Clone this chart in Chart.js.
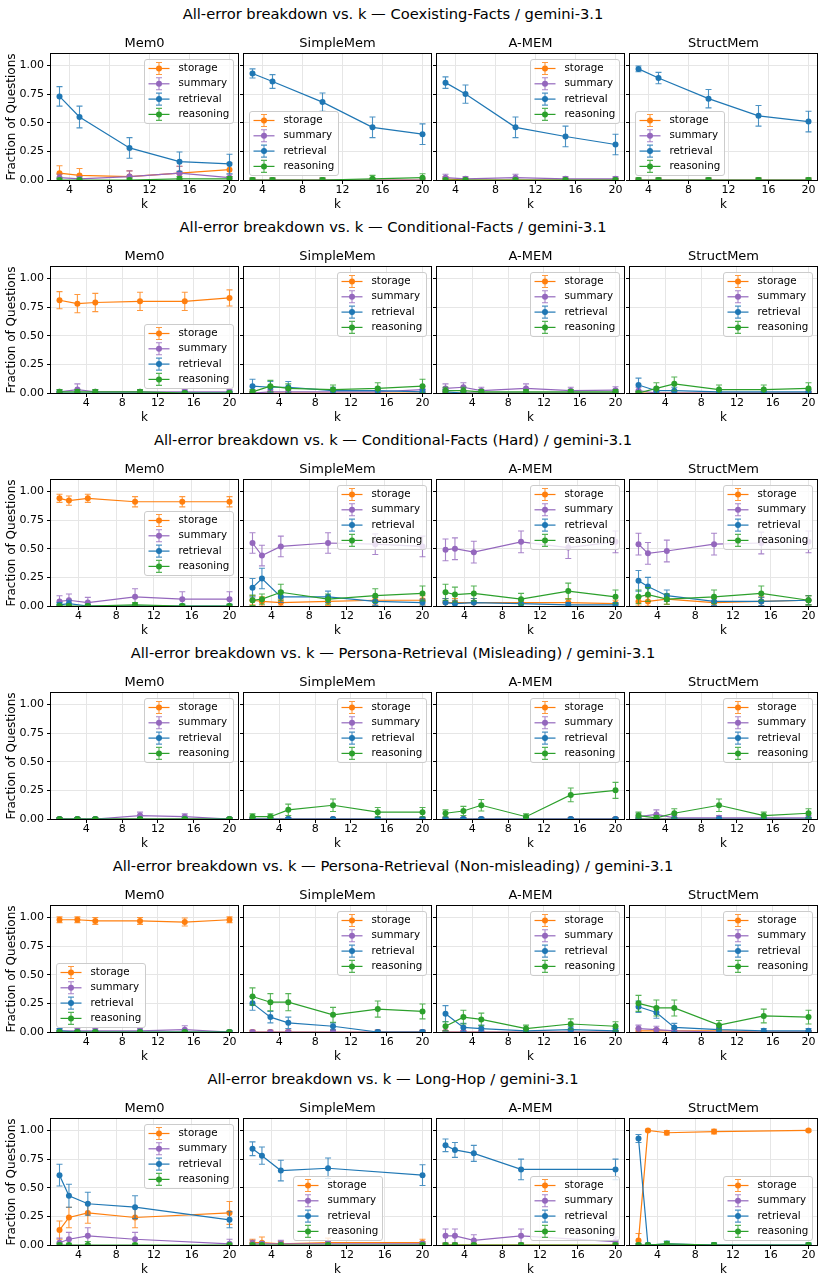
<!DOCTYPE html>
<html>
<head>
<meta charset="utf-8">
<script src="https://cdn.jsdelivr.net/npm/chart.js@4.4.0/dist/chart.umd.min.js"></script>
<style>
  body { margin: 0; background: #fff; }
  #fig { position: relative; width: 824px; height: 1281px; font-family: 'DejaVu Sans', sans-serif; color: #000; overflow: hidden; }
  .sup { position: absolute; left: 0; width: 786px; text-align: center; font-size: 14.7px; line-height: 18px; white-space: nowrap; }
  .sub { position: absolute; width: 187px; text-align: center; font-size: 13px; line-height: 16px; }
  canvas { position: absolute; }
</style>
</head>
<body>
<div id="fig"></div>
<script>
// x values (k) per task
const K_COEX = [3, 5, 10, 15, 20];
const K_COND = [1, 3, 5, 10, 15, 20];
const K_HARD = [2, 3, 5, 10, 15, 20];
const K_MIS = [1, 3, 5, 10, 15, 20];
const K_NON = [1, 3, 5, 10, 15, 20];
const K_HOP = [2, 3, 5, 10, 20];

const X_TICKS = [4, 8, 12, 16, 20];
const Y_TICKS = [0, 0.25, 0.5, 0.75, 1.0];

const METHODS = ['Mem0', 'SimpleMem', 'A-MEM', 'StructMem'];
const SERIES = ['storage', 'summary', 'retrieval', 'reasoning'];
const COLORS = { storage: '#ff7f0e', summary: '#9467bd', retrieval: '#1f77b4', reasoning: '#2ca02c' };

// Coexisting-Facts
const COEX_MEM0 = { storage: [0.06, 0.04, 0.03, 0.06, 0.09], summary: [0.02, 0.01, 0.03, 0.06, 0.02], retrieval: [0.73, 0.55, 0.28, 0.16, 0.14], reasoning: [0, 0, 0, 0.01, 0.01] };
const COEX_MEM0_ERR = { storage: [0.065, 0.06, 0.05, 0.06, 0.06], summary: [0.03, 0.02, 0.05, 0.06, 0.03], retrieval: [0.085, 0.095, 0.09, 0.085, 0.085], reasoning: [0.015, 0.015, 0.015, 0.02, 0.02] };
const COEX_SIMPLE = { storage: [0, 0, 0, 0, 0], summary: [0, 0, 0, 0, 0], retrieval: [0.93, 0.86, 0.68, 0.46, 0.40], reasoning: [0, 0, 0, 0.01, 0.02] };
const COEX_SIMPLE_ERR = { storage: [0.015, 0.015, 0.015, 0.015, 0.015], summary: [0.015, 0.015, 0.015, 0.015, 0.015], retrieval: [0.04, 0.06, 0.08, 0.09, 0.09], reasoning: [0.02, 0.02, 0.02, 0.03, 0.035] };
const COEX_AMEM = { storage: [0.01, 0, 0, 0, 0], summary: [0.02, 0.01, 0.02, 0.01, 0.01], retrieval: [0.85, 0.75, 0.46, 0.38, 0.31], reasoning: [0, 0, 0, 0, 0] };
const COEX_AMEM_ERR = { storage: [0.02, 0.015, 0.015, 0.015, 0.015], summary: [0.03, 0.02, 0.03, 0.02, 0.02], retrieval: [0.05, 0.08, 0.09, 0.09, 0.09], reasoning: [0.015, 0.015, 0.015, 0.015, 0.015] };
const COEX_STRUCT = { storage: [0, 0, 0, 0, 0], summary: [0, 0, 0, 0, 0], retrieval: [0.97, 0.89, 0.71, 0.56, 0.51], reasoning: [0, 0, 0, 0, 0] };
const COEX_STRUCT_ERR = { storage: [0.015, 0.015, 0.015, 0.015, 0.015], summary: [0.015, 0.015, 0.015, 0.015, 0.015], retrieval: [0.025, 0.05, 0.08, 0.09, 0.09], reasoning: [0.02, 0.02, 0.02, 0.02, 0.02] };

// Conditional-Facts
const COND_MEM0 = { storage: [0.81, 0.78, 0.79, 0.80, 0.80, 0.83], summary: [0.01, 0.03, 0.01, 0.01, 0.01, 0.01], retrieval: [0, 0, 0, 0, 0, 0], reasoning: [0.01, 0.01, 0.01, 0.01, 0, 0] };
const COND_MEM0_ERR = { storage: [0.075, 0.08, 0.08, 0.08, 0.08, 0.07], summary: [0.02, 0.05, 0.02, 0.02, 0.02, 0.02], retrieval: [0.015, 0.015, 0.015, 0.015, 0.015, 0.015], reasoning: [0.02, 0.02, 0.02, 0.02, 0.015, 0.015] };
const COND_SIMPLE = { storage: [0, 0, 0, 0, 0, 0], summary: [0, 0.01, 0.01, 0.01, 0.01, 0.03], retrieval: [0.06, 0.05, 0.05, 0.02, 0.02, 0.01], reasoning: [0.01, 0.06, 0.04, 0.03, 0.04, 0.06] };
const COND_SIMPLE_ERR = { storage: [0.015, 0.015, 0.015, 0.015, 0.015, 0.015], summary: [0.015, 0.02, 0.02, 0.02, 0.02, 0.03], retrieval: [0.06, 0.05, 0.05, 0.03, 0.03, 0.02], reasoning: [0.02, 0.05, 0.04, 0.04, 0.05, 0.06] };
const COND_AMEM = { storage: [0, 0, 0, 0, 0, 0], summary: [0.04, 0.05, 0.02, 0.04, 0.02, 0.025], retrieval: [0.01, 0, 0, 0, 0, 0], reasoning: [0.02, 0.02, 0.01, 0.01, 0.01, 0.01] };
const COND_AMEM_ERR = { storage: [0.015, 0.015, 0.015, 0.015, 0.015, 0.015], summary: [0.04, 0.04, 0.03, 0.04, 0.03, 0.03], retrieval: [0.02, 0.015, 0.015, 0.015, 0.015, 0.015], reasoning: [0.03, 0.03, 0.02, 0.02, 0.02, 0.02] };
const COND_STRUCT = { storage: [0, 0, 0, 0, 0, 0], summary: [0.02, 0, 0, 0, 0, 0], retrieval: [0.07, 0.02, 0.02, 0.01, 0.01, 0.01], reasoning: [0, 0.04, 0.08, 0.03, 0.03, 0.04] };
const COND_STRUCT_ERR = { storage: [0.015, 0.015, 0.015, 0.015, 0.015, 0.015], summary: [0.03, 0.015, 0.015, 0.015, 0.015, 0.015], retrieval: [0.06, 0.03, 0.03, 0.02, 0.02, 0.02], reasoning: [0.015, 0.05, 0.06, 0.04, 0.04, 0.05] };

// Conditional-Facts (Hard)
const HARD_MEM0 = { storage: [0.94, 0.92, 0.94, 0.91, 0.91, 0.91], summary: [0.04, 0.05, 0.03, 0.08, 0.06, 0.06], retrieval: [0.01, 0.02, 0, 0, 0, 0], reasoning: [0, 0, 0, 0.01, 0, 0] };
const HARD_MEM0_ERR = { storage: [0.035, 0.04, 0.035, 0.045, 0.045, 0.045], summary: [0.05, 0.055, 0.045, 0.07, 0.065, 0.065], retrieval: [0.02, 0.03, 0.015, 0.015, 0.015, 0.015], reasoning: [0.015, 0.015, 0.015, 0.02, 0.015, 0.015] };
const HARD_SIMPLE = { storage: [0.05, 0.04, 0.03, 0.04, 0.05, 0.05], summary: [0.55, 0.44, 0.52, 0.55, 0.54, 0.52], retrieval: [0.16, 0.24, 0.08, 0.08, 0.04, 0.03], reasoning: [0.05, 0.06, 0.12, 0.06, 0.09, 0.11] };
const HARD_SIMPLE_ERR = { storage: [0.04, 0.04, 0.03, 0.035, 0.04, 0.04], summary: [0.09, 0.09, 0.09, 0.09, 0.09, 0.09], retrieval: [0.08, 0.09, 0.05, 0.05, 0.035, 0.03], reasoning: [0.045, 0.045, 0.07, 0.045, 0.06, 0.065] };
const HARD_AMEM = { storage: [0.03, 0.03, 0.03, 0.03, 0.03, 0.02], summary: [0.49, 0.50, 0.47, 0.56, 0.51, 0.56], retrieval: [0.03, 0.02, 0.03, 0.02, 0.01, 0.01], reasoning: [0.12, 0.10, 0.11, 0.06, 0.13, 0.08] };
const HARD_AMEM_ERR = { storage: [0.035, 0.035, 0.035, 0.035, 0.035, 0.03], summary: [0.095, 0.095, 0.095, 0.095, 0.095, 0.095], retrieval: [0.035, 0.03, 0.035, 0.03, 0.02, 0.02], reasoning: [0.07, 0.065, 0.065, 0.05, 0.07, 0.06] };
const HARD_STRUCT = { storage: [0.04, 0.04, 0.06, 0.03, 0.04, 0.05], summary: [0.54, 0.46, 0.48, 0.54, 0.55, 0.56], retrieval: [0.22, 0.17, 0.09, 0.04, 0.04, 0.05], reasoning: [0.08, 0.10, 0.06, 0.08, 0.11, 0.05] };
const HARD_STRUCT_ERR = { storage: [0.04, 0.04, 0.045, 0.035, 0.04, 0.04], summary: [0.095, 0.095, 0.095, 0.095, 0.095, 0.095], retrieval: [0.09, 0.08, 0.05, 0.035, 0.035, 0.04], reasoning: [0.06, 0.06, 0.045, 0.06, 0.065, 0.04] };

// Persona-Retrieval (Misleading)
const MIS_MEM0 = { storage: [0, 0, 0, 0, 0, 0], summary: [0, 0, 0, 0.03, 0.02, 0], retrieval: [0, 0, 0, 0, 0, 0], reasoning: [0, 0, 0, 0, 0, 0] };
const MIS_MEM0_ERR = { storage: [0.01, 0.01, 0.01, 0.01, 0.01, 0.01], summary: [0.01, 0.01, 0.01, 0.03, 0.025, 0.01], retrieval: [0.01, 0.01, 0.01, 0.01, 0.01, 0.01], reasoning: [0.01, 0.01, 0.01, 0.01, 0.01, 0.01] };
const MIS_SIMPLE = { storage: [0, 0, 0, 0, 0, 0], summary: [0, 0, 0, 0, 0, 0], retrieval: [0, 0, 0, 0, 0, 0], reasoning: [0.02, 0.02, 0.08, 0.12, 0.06, 0.06] };
const MIS_SIMPLE_ERR = { storage: [0.01, 0.01, 0.01, 0.01, 0.01, 0.01], summary: [0.01, 0.01, 0.01, 0.01, 0.01, 0.01], retrieval: [0.01, 0.01, 0.01, 0.01, 0.01, 0.01], reasoning: [0.025, 0.025, 0.05, 0.055, 0.04, 0.04] };
const MIS_AMEM = { storage: [0, 0, 0, 0, 0, 0], summary: [0, 0, 0, 0, 0, 0], retrieval: [0, 0, 0, 0, 0, 0], reasoning: [0.05, 0.07, 0.12, 0.02, 0.21, 0.25] };
const MIS_AMEM_ERR = { storage: [0.01, 0.01, 0.01, 0.01, 0.01, 0.01], summary: [0.01, 0.01, 0.01, 0.01, 0.01, 0.01], retrieval: [0.01, 0.01, 0.01, 0.01, 0.01, 0.01], reasoning: [0.03, 0.04, 0.05, 0.025, 0.06, 0.07] };
const MIS_STRUCT = { storage: [0, 0, 0, 0, 0, 0], summary: [0.02, 0.04, 0.01, 0.01, 0.01, 0.01], retrieval: [0, 0, 0, 0, 0, 0], reasoning: [0.03, 0.01, 0.05, 0.12, 0.03, 0.05] };
const MIS_STRUCT_ERR = { storage: [0.01, 0.01, 0.01, 0.01, 0.01, 0.01], summary: [0.03, 0.04, 0.02, 0.02, 0.02, 0.02], retrieval: [0.01, 0.01, 0.01, 0.01, 0.01, 0.01], reasoning: [0.03, 0.02, 0.04, 0.055, 0.03, 0.04] };

// Persona-Retrieval (Non-misleading)
const NON_MEM0 = { storage: [0.98, 0.98, 0.97, 0.97, 0.96, 0.98], summary: [0.01, 0.01, 0.01, 0.01, 0.02, 0], retrieval: [0.01, 0, 0, 0, 0, 0], reasoning: [0, 0, 0, 0, 0, 0] };
const NON_MEM0_ERR = { storage: [0.025, 0.025, 0.03, 0.03, 0.035, 0.025], summary: [0.02, 0.02, 0.02, 0.02, 0.035, 0.01], retrieval: [0.02, 0.01, 0.01, 0.01, 0.01, 0.01], reasoning: [0.01, 0.01, 0.01, 0.01, 0.01, 0.015] };
const NON_SIMPLE = { storage: [0, 0, 0, 0, 0, 0], summary: [0, 0, 0, 0, 0, 0], retrieval: [0.25, 0.13, 0.08, 0.05, 0, 0], reasoning: [0.31, 0.26, 0.26, 0.15, 0.20, 0.18] };
const NON_SIMPLE_ERR = { storage: [0.015, 0.015, 0.015, 0.015, 0.015, 0.015], summary: [0.015, 0.015, 0.015, 0.015, 0.015, 0.015], retrieval: [0.06, 0.05, 0.05, 0.03, 0.015, 0.015], reasoning: [0.075, 0.075, 0.075, 0.065, 0.07, 0.065] };
const NON_AMEM = { storage: [0, 0, 0, 0, 0, 0], summary: [0, 0, 0, 0, 0, 0], retrieval: [0.16, 0.04, 0.03, 0.01, 0.02, 0.01], reasoning: [0.05, 0.13, 0.11, 0.03, 0.07, 0.05] };
const NON_AMEM_ERR = { storage: [0.01, 0.01, 0.01, 0.01, 0.01, 0.01], summary: [0.01, 0.01, 0.01, 0.01, 0.01, 0.01], retrieval: [0.07, 0.035, 0.03, 0.02, 0.025, 0.02], reasoning: [0.04, 0.06, 0.055, 0.03, 0.045, 0.04] };
const NON_STRUCT = { storage: [0.01, 0.01, 0.01, 0.01, 0, 0], summary: [0.03, 0.02, 0.01, 0, 0, 0], retrieval: [0.22, 0.17, 0.04, 0.02, 0.01, 0.01], reasoning: [0.25, 0.21, 0.21, 0.06, 0.14, 0.13] };
const NON_STRUCT_ERR = { storage: [0.02, 0.02, 0.02, 0.02, 0.01, 0.01], summary: [0.03, 0.03, 0.02, 0.01, 0.01, 0.01], retrieval: [0.05, 0.05, 0.035, 0.02, 0.02, 0.02], reasoning: [0.07, 0.07, 0.07, 0.04, 0.06, 0.06] };

// Long-Hop
const HOP_MEM0 = { storage: [0.13, 0.24, 0.28, 0.24, 0.28], summary: [0.02, 0.05, 0.08, 0.05, 0.01], retrieval: [0.61, 0.43, 0.36, 0.33, 0.22], reasoning: [0, 0, 0, 0, 0] };
const HOP_MEM0_ERR = { storage: [0.08, 0.09, 0.09, 0.09, 0.10], summary: [0.04, 0.06, 0.07, 0.06, 0.04], retrieval: [0.095, 0.10, 0.10, 0.10, 0.07], reasoning: [0.015, 0.015, 0.03, 0.015, 0.015] };
const HOP_SIMPLE = { storage: [0.02, 0.02, 0.01, 0.02, 0.02], summary: [0.01, 0.01, 0.01, 0.01, 0.01], retrieval: [0.84, 0.78, 0.65, 0.67, 0.61], reasoning: [0, 0, 0, 0, 0] };
const HOP_SIMPLE_ERR = { storage: [0.03, 0.05, 0.02, 0.04, 0.03], summary: [0.03, 0.02, 0.03, 0.02, 0.02], retrieval: [0.06, 0.075, 0.09, 0.09, 0.09], reasoning: [0.015, 0.015, 0.015, 0.015, 0.015] };
const HOP_AMEM = { storage: [0, 0, 0, 0, 0], summary: [0.08, 0.08, 0.04, 0.08, 0.03], retrieval: [0.87, 0.83, 0.80, 0.66, 0.66], reasoning: [0, 0, 0, 0, 0] };
const HOP_AMEM_ERR = { storage: [0.015, 0.015, 0.015, 0.015, 0.015], summary: [0.06, 0.06, 0.05, 0.06, 0.04], retrieval: [0.055, 0.065, 0.07, 0.09, 0.09], reasoning: [0.015, 0.015, 0.015, 0.015, 0.015] };
const HOP_STRUCT = { storage: [0.04, 1.00, 0.98, 0.99, 1.00], summary: [0, 0, 0, 0, 0], retrieval: [0.93, 0, 0.01, 0, 0], reasoning: [0, 0, 0.01, 0, 0] };
const HOP_STRUCT_ERR = { storage: [0.06, 0.01, 0.02, 0.02, 0.01], summary: [0.01, 0.01, 0.01, 0.01, 0.01], retrieval: [0.035, 0.015, 0.025, 0.015, 0.015], reasoning: [0.015, 0.015, 0.02, 0.02, 0.02] };

const ROWS = [
  { task: 'Coexisting-Facts', k: K_COEX, vals: [COEX_MEM0, COEX_SIMPLE, COEX_AMEM, COEX_STRUCT], errs: [COEX_MEM0_ERR, COEX_SIMPLE_ERR, COEX_AMEM_ERR, COEX_STRUCT_ERR], leg: ['ur', 'll', 'ur', 'll'] },
  { task: 'Conditional-Facts', k: K_COND, vals: [COND_MEM0, COND_SIMPLE, COND_AMEM, COND_STRUCT], errs: [COND_MEM0_ERR, COND_SIMPLE_ERR, COND_AMEM_ERR, COND_STRUCT_ERR], leg: ['lr', 'ur', 'ur', 'ur'] },
  { task: 'Conditional-Facts (Hard)', k: K_HARD, vals: [HARD_MEM0, HARD_SIMPLE, HARD_AMEM, HARD_STRUCT], errs: [HARD_MEM0_ERR, HARD_SIMPLE_ERR, HARD_AMEM_ERR, HARD_STRUCT_ERR], leg: ['cr', 'ur', 'ur', 'ur'] },
  { task: 'Persona-Retrieval (Misleading)', k: K_MIS, vals: [MIS_MEM0, MIS_SIMPLE, MIS_AMEM, MIS_STRUCT], errs: [MIS_MEM0_ERR, MIS_SIMPLE_ERR, MIS_AMEM_ERR, MIS_STRUCT_ERR], leg: ['ur', 'ur', 'ur', 'ur'] },
  { task: 'Persona-Retrieval (Non-misleading)', k: K_NON, vals: [NON_MEM0, NON_SIMPLE, NON_AMEM, NON_STRUCT], errs: [NON_MEM0_ERR, NON_SIMPLE_ERR, NON_AMEM_ERR, NON_STRUCT_ERR], leg: ['ll', 'ur', 'ur', 'ur'] },
  { task: 'Long-Hop', k: K_HOP, vals: [HOP_MEM0, HOP_SIMPLE, HOP_AMEM, HOP_STRUCT], errs: [HOP_MEM0_ERR, HOP_SIMPLE_ERR, HOP_AMEM_ERR, HOP_STRUCT_ERR], leg: ['ur', 'lc', 'lr', 'lr'] },
];

// layout (px)
const ROW_TOP = 54, ROW_STEP = 213;
const COL_LEFT = [51, 244, 437, 630];
const PLOT_W = 187, PLOT_H = 126;
const PAD_T = 6, PAD_R = 14, X_AXIS_H = 36;
const FONT = "'DejaVu Sans', sans-serif";
const GRID = '#e6e6e6';
const CAP = 3;

Chart.defaults.font.family = FONT;
Chart.defaults.color = '#000';

// error bars under each series' markers
const errorBars = {
  id: 'errorBars',
  beforeDatasetDraw(chart, args) {
    const ds = chart.data.datasets[args.index];
    const y = chart.scales.y;
    const a = chart.chartArea;
    const ctx = chart.ctx;
    ctx.save();
    ctx.beginPath();
    ctx.rect(a.left, a.top, a.right - a.left, a.bottom - a.top);
    ctx.clip();
    ctx.strokeStyle = ds.borderColor;
    ctx.globalAlpha = 0.8;
    ctx.lineWidth = 1.1;
    args.meta.data.forEach((pt, i) => {
      const v = ds.data[i].y, e = ds.errors[i];
      const y1 = y.getPixelForValue(v + e), y2 = y.getPixelForValue(v - e);
      ctx.beginPath();
      ctx.moveTo(pt.x, y1); ctx.lineTo(pt.x, y2);
      ctx.moveTo(pt.x - CAP, y1); ctx.lineTo(pt.x + CAP, y1);
      ctx.moveTo(pt.x - CAP, y2); ctx.lineTo(pt.x + CAP, y2);
      ctx.stroke();
    });
    ctx.restore();
  }
};

// black box around the axes
const frame = {
  id: 'frame',
  afterDatasetsDraw(chart) {
    const { ctx, chartArea: a } = chart;
    ctx.save();
    ctx.strokeStyle = '#000';
    ctx.lineWidth = 1;
    ctx.strokeRect(Math.round(a.left) - 0.5, Math.round(a.top) - 0.5, Math.round(a.right - a.left) + 1, Math.round(a.bottom - a.top) + 1);
    ctx.restore();
  }
};

// matplotlib-like legend inside the axes
const boxLegend = {
  id: 'boxLegend',
  afterDraw(chart, args, opts) {
    const { ctx, chartArea: a } = chart;
    const W = 89, H = 64, pad = 5;
    let x = a.right - pad - W, y = a.top + pad;
    if (opts.loc[0] === 'l') y = a.bottom - pad - H;
    if (opts.loc[0] === 'c') y = (a.top + a.bottom - H) / 2;
    if (opts.loc[1] === 'l') x = a.left + pad;
    if (opts.loc[1] === 'c') x = (a.left + a.right - W) / 2;
    x = Math.round(x) + 0.5; y = Math.round(y) + 0.5;
    ctx.save();
    ctx.beginPath();
    if (ctx.roundRect) ctx.roundRect(x, y, W, H, 2.5); else ctx.rect(x, y, W, H);
    ctx.fillStyle = 'rgba(255,255,255,0.8)';
    ctx.fill();
    ctx.strokeStyle = '#cccccc';
    ctx.lineWidth = 1;
    ctx.stroke();
    ctx.font = '10.3px ' + FONT;
    ctx.textBaseline = 'middle';
    chart.data.datasets.forEach((ds, i) => {
      const cy = y + 9 + i * 15.3;
      const mx = x + 14.5;
      ctx.strokeStyle = ds.borderColor;
      ctx.lineWidth = 1.2;
      ctx.beginPath(); ctx.moveTo(x + 4, cy); ctx.lineTo(x + 25, cy); ctx.stroke();
      ctx.globalAlpha = 0.8;
      ctx.lineWidth = 1.1;
      ctx.beginPath();
      ctx.moveTo(mx, cy - 6); ctx.lineTo(mx, cy + 6);
      ctx.moveTo(mx - CAP, cy - 6); ctx.lineTo(mx + CAP, cy - 6);
      ctx.moveTo(mx - CAP, cy + 6); ctx.lineTo(mx + CAP, cy + 6);
      ctx.stroke();
      ctx.globalAlpha = 1;
      ctx.fillStyle = ds.borderColor;
      ctx.beginPath(); ctx.arc(mx, cy, 3, 0, Math.PI * 2); ctx.fill();
      ctx.fillStyle = '#000';
      ctx.fillText(ds.label, x + 34, cy);
    });
    ctx.restore();
  }
};

function addText(cls, text, left, top) {
  const d = document.createElement('div');
  d.className = cls;
  d.textContent = text;
  d.style.left = left + 'px';
  d.style.top = top + 'px';
  document.getElementById('fig').appendChild(d);
}

function makePanel(row, r, c) {
  const top = ROW_TOP + r * ROW_STEP;
  const padL = c === 0 ? COL_LEFT[0] : 8;
  const canvas = document.createElement('canvas');
  canvas.width = padL + PLOT_W + PAD_R;
  canvas.height = PAD_T + PLOT_H + X_AXIS_H;
  canvas.style.left = (COL_LEFT[c] - padL) + 'px';
  canvas.style.top = (top - PAD_T) + 'px';
  document.getElementById('fig').appendChild(canvas);

  const ks = row.k;
  const span = ks[ks.length - 1] - ks[0];
  const vals = row.vals[c], errs = row.errs[c];
  const datasets = SERIES.map((s, i) => ({
    label: s,
    data: ks.map((k, j) => ({ x: k, y: vals[s][j] })),
    errors: errs[s],
    borderColor: COLORS[s],
    backgroundColor: COLORS[s],
    pointBackgroundColor: COLORS[s],
    borderWidth: 1.2,
    pointRadius: 3,
    pointHoverRadius: 3,
    pointBorderWidth: 0,
    tension: 0,
    order: 3 - i,
  }));

  new Chart(canvas, {
    type: 'line',
    data: { datasets },
    plugins: [errorBars, frame, boxLegend],
    options: {
      responsive: false,
      animation: false,
      devicePixelRatio: 1,
      events: [],
      layout: { padding: { left: 0, top: PAD_T, right: PAD_R, bottom: 0 } },
      plugins: {
        legend: { display: false },
        tooltip: { enabled: false },
        boxLegend: { loc: row.leg[c] },
      },
      scales: {
        x: {
          type: 'linear',
          bounds: 'data',
          min: ks[0] - 0.05 * span,
          max: ks[ks.length - 1] + 0.05 * span,
          afterBuildTicks: s => { s.ticks = X_TICKS.map(v => ({ value: v })); },
          afterFit: s => { s.height = X_AXIS_H; s.paddingLeft = 0; s.paddingRight = 0; },
          grid: { color: GRID, lineWidth: 1, tickColor: '#000', tickLength: 4, tickWidth: 1 },
          border: { display: false },
          ticks: { font: { size: 11 }, color: '#000', padding: 0, maxRotation: 0, autoSkip: false, callback: v => String(v) },
          title: { display: true, text: 'k', font: { size: 12 }, color: '#000', padding: { top: 0, bottom: 4 } },
        },
        y: {
          type: 'linear',
          bounds: 'data',
          min: 0,
          max: 1.1,
          afterBuildTicks: s => { s.ticks = Y_TICKS.map(v => ({ value: v })); },
          afterFit: s => { s.width = padL; s.paddingTop = 0; s.paddingBottom = 0; },
          grid: { color: GRID, lineWidth: 1, tickColor: '#000', tickLength: 4, tickWidth: 1 },
          border: { display: false },
          ticks: { font: { size: 11 }, color: '#000', padding: 3, autoSkip: false, callback: v => (c === 0 ? v.toFixed(2) : '') },
          title: { display: c === 0, text: 'Fraction of Questions', font: { size: 12 }, color: '#000', padding: { top: 5, bottom: 0 } },
        },
      },
    },
  });

  addText('sub', METHODS[c], COL_LEFT[c], top - 19);
}

ROWS.forEach((row, r) => {
  const top = ROW_TOP + r * ROW_STEP;
  addText('sup', 'All-error breakdown vs. k \u2014 ' + row.task + ' / gemini-3.1', 0, top - 49);
  METHODS.forEach((m, c) => makePanel(row, r, c));
});
</script>
</body>
</html>
